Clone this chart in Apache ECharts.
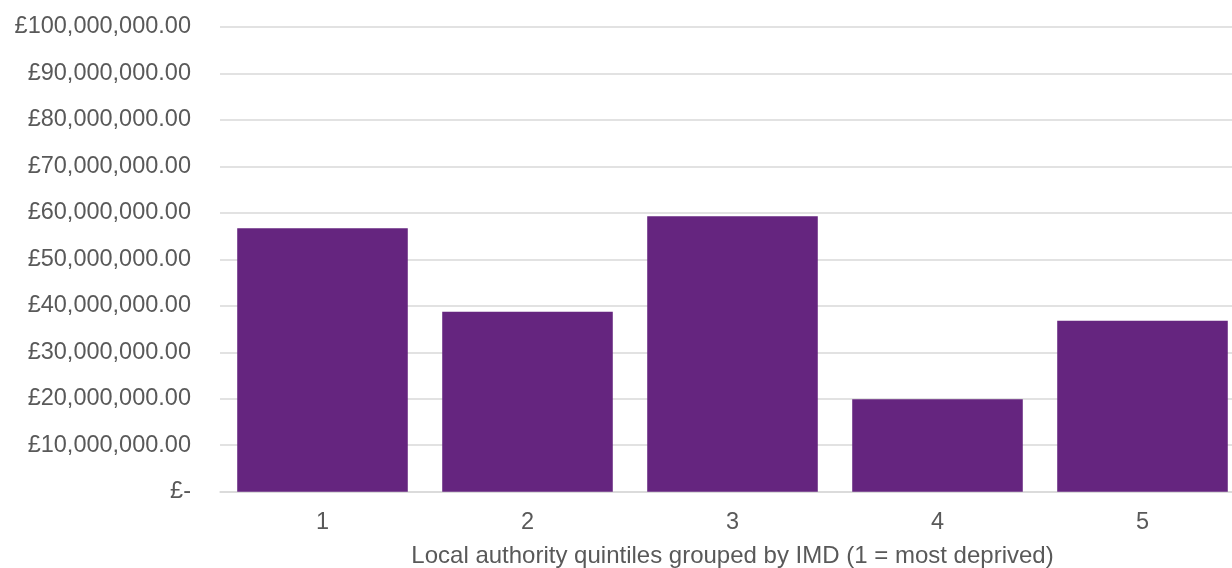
<!DOCTYPE html>
<html><head><meta charset="utf-8">
<script src="https://cdn.jsdelivr.net/npm/echarts@6/dist/echarts.min.js"></script>
<style>html,body{margin:0;padding:0;background:#fff}#c{width:1232px;height:568px}</style>
</head><body><div id="c"></div>
<script>
const categories = ['1', '2', '3', '4', '5'];
const values = [56700000, 38700000, 59300000, 19900000, 36800000];
const xAxisTitle = 'Local authority quintiles grouped by IMD (1 = most deprived)';

function fmt(v) {
  if (v === 0) return '£-';
  return '£' + v.toLocaleString('en-GB', {minimumFractionDigits: 2, maximumFractionDigits: 2});
}
const chart = echarts.init(document.getElementById('c'), null, {renderer: 'canvas'});
chart.setOption({
  animation: false,
  textStyle: {fontFamily: 'Liberation Sans, Arial, sans-serif'},
  grid: {left: 220, top: 27, right: -13, bottom: 76.3, containLabel: false, outerBoundsMode: 'none'},
  xAxis: {
    type: 'category', data: categories,
    axisLine: {show: true, lineStyle: {color: '#d9d9d9', width: 1.5}},
    axisTick: {show: false},
    axisLabel: {color: '#595959', fontSize: 23.5, margin: 19, fontFamily: 'Liberation Sans'},
    name: xAxisTitle, nameLocation: 'middle', nameGap: 52.5,
    nameTextStyle: {color: '#595959', fontSize: 24, fontFamily: 'Liberation Sans'}
  },
  yAxis: {
    type: 'value', min: 0, max: 100000000, interval: 10000000,
    axisLine: {show: false}, axisTick: {show: false},
    splitLine: {lineStyle: {color: '#d9d9d9', width: 1.5}},
    axisLabel: {color: '#595959', fontSize: 23.5, margin: 29, formatter: fmt, fontFamily: 'Liberation Sans', padding: [4, 0, 0, 0]}
  },
  series: [{
    type: 'bar', data: values, barCategoryGap: '16.8%',
    itemStyle: {color: '#65257F'}
  }]
});
</script></body></html>
